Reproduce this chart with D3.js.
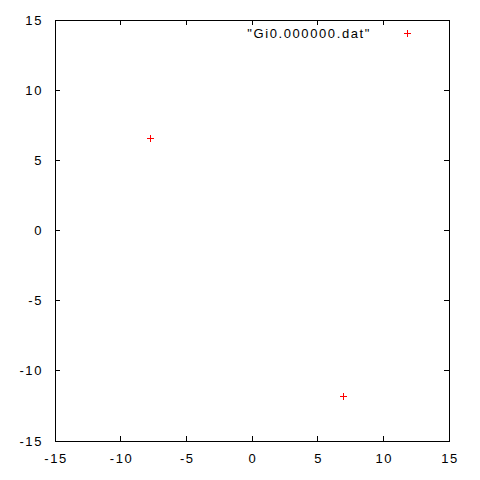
<!DOCTYPE html>
<html>
<head>
<meta charset="utf-8">
<script src="https://cdn.jsdelivr.net/npm/d3@7"></script>
<style>
  body { margin: 0; background: #fff; }
  text { font-family: "Liberation Sans", Arial, sans-serif; font-size: 13px; letter-spacing: 1.6px; fill: #000; }
</style>
</head>
<body>
<svg id="chart" width="480" height="480"></svg>
<script>
// data
const seriesName = '"Gi0.000000.dat"';
const xs = [-7.77, 6.93];
const ys = [6.6, -11.8];
const xTicks = [-15, -10, -5, 0, 5, 10, 15];
const yTicks = [-15, -10, -5, 0, 5, 10, 15];

const svg = d3.select("#chart");
const margin = { left: 55, right: 31, top: 20, bottom: 39 };
const W = 480, H = 480;

const x = d3.scaleLinear().domain([-15, 15]).range([margin.left, W - margin.right]);
const y = d3.scaleLinear().domain([-15, 15]).range([H - margin.bottom, margin.top]);

const tick = 5;
const g = svg.append("g").attr("stroke", "#000").attr("stroke-width", 1).attr("shape-rendering", "crispEdges");

// inward ticks on all four sides
xTicks.forEach(v => {
  g.append("line").attr("x1", x(v)).attr("x2", x(v)).attr("y1", y.range()[0]).attr("y2", y.range()[0] - tick);
  g.append("line").attr("x1", x(v)).attr("x2", x(v)).attr("y1", y.range()[1]).attr("y2", y.range()[1] + tick);
});
yTicks.forEach(v => {
  g.append("line").attr("y1", y(v)).attr("y2", y(v)).attr("x1", x.range()[0]).attr("x2", x.range()[0] + tick);
  g.append("line").attr("y1", y(v)).attr("y2", y(v)).attr("x1", x.range()[1]).attr("x2", x.range()[1] - tick);
});

// border
g.append("rect")
  .attr("x", x.range()[0]).attr("y", y.range()[1])
  .attr("width", x.range()[1] - x.range()[0])
  .attr("height", y.range()[0] - y.range()[1])
  .attr("fill", "none");

// tick labels
svg.selectAll("text.xt").data(xTicks).enter().append("text")
  .attr("class", "xt")
  .attr("x", d => x(d) + 1).attr("y", y.range()[0] + 22)
  .attr("text-anchor", "middle")
  .text(d => d);
svg.selectAll("text.yt").data(yTicks).enter().append("text")
  .attr("class", "yt")
  .attr("x", x.range()[0] - 12).attr("y", d => y(d) + 4.5)
  .attr("text-anchor", "end")
  .text(d => d);

// points as "+" marks
function plus(sel, cx, cy, color) {
  sel.append("path")
    .attr("d", `M${cx - 3.5},${cy}H${cx + 3.5}M${cx},${cy - 3.5}V${cy + 3.5}`)
    .attr("stroke", color).attr("stroke-width", 1).attr("fill", "none")
    .attr("shape-rendering", "crispEdges");
}
const pts = svg.append("g");
xs.forEach((v, i) => plus(pts, Math.round(x(v)) + 0.5, Math.round(y(ys[i])) + 0.5, "#ff0000"));

// key
svg.append("text").attr("x", 371).attr("y", 37.5).attr("text-anchor", "end").text(seriesName);
plus(svg, 407.5, 33.5, "#ff0000");
</script>
</body>
</html>
